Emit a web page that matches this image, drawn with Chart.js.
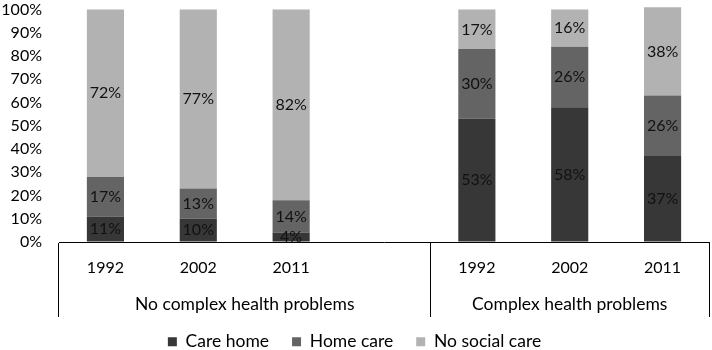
<!DOCTYPE html>
<html>
<head>
<meta charset="utf-8">
<script src="https://cdn.jsdelivr.net/npm/chart.js@4/dist/chart.umd.min.js"></script>
<style>
  html, body { margin: 0; padding: 0; background: #fff; }
</style>
</head>
<body>
<canvas id="chart" width="712" height="350"></canvas>
<script>
// categories: the empty one is the spacer between the two groups
const years = ['1992', '2002', '2011', '', '1992', '2002', '2011'];
const groups = ['No complex health problems', 'Complex health problems'];
const groupSizes = [4, 3];

const careHome = [11, 10, 4, null, 53, 58, 37];
const homeCare = [17, 13, 14, null, 30, 26, 26];
const noSocialCare = [72, 77, 82, null, 17, 16, 38];

const seriesNames = ['Care home', 'Home care', 'No social care'];
const seriesColors = ['#373737', '#646464', '#b2b2b2'];

// group boundaries (category index) and centres for the second axis row
let bounds = [0];
groupSizes.forEach((n) => { bounds.push(bounds[bounds.length - 1] + n); });
const groupCentres = groupSizes.map((n, i) => bounds[i] - 0.5 + n / 2);

Chart.defaults.font.family = 'Lato';
Chart.defaults.font.size = 16;
Chart.defaults.color = '#000';

const barLabels = {
    id: 'barLabels',
    afterDatasetsDraw(chart) {
        const c = chart.ctx;
        c.save();
        c.font = '16px Lato';
        c.fillStyle = '#111';
        c.textAlign = 'center';
        c.textBaseline = 'middle';
        chart.data.datasets.forEach((ds, i) => {
            chart.getDatasetMeta(i).data.forEach((el, j) => {
                const v = ds.data[j];
                if (v === null) return;
                c.fillText(v + '%', el.x, (el.y + el.base) / 2);
            });
        });
        c.restore();
    }
};

const ctx = document.getElementById('chart');
new Chart(ctx, {
    type: 'bar',
    data: {
        labels: years,
        datasets: [careHome, homeCare, noSocialCare].map((d, i) => ({
            label: seriesNames[i],
            data: d,
            backgroundColor: seriesColors[i],
            categoryPercentage: 1,
            barPercentage: 0.4,
            clip: false,
        })),
    },
    options: {
        responsive: false,
        animation: false,
        layout: { padding: { top: 0, right: 3, bottom: 0, left: 0 } },
        plugins: {
            legend: {
                position: 'bottom',
                maxHeight: 40,
                labels: { boxWidth: 9, boxHeight: 9, padding: 23, color: '#000', font: { size: 17.5 } },
            },
            tooltip: { enabled: false },
        },
        scales: {
            y: {
                stacked: true,
                min: 0,
                max: 100,
                ticks: { stepSize: 10, padding: 0, autoSkip: false, callback: (v) => v + '%' },
                grid: { drawOnChartArea: false, drawTicks: true, tickLength: 17, color: 'transparent' },
                border: { display: false },
                afterFit: (s) => { s.width = 59; },
            },
            x: {
                stacked: true,
                grid: {
                    drawOnChartArea: false,
                    tickLength: 75,
                    color: (c) => {
                        const i = c.type === 'tick' ? c.index : years.length;
                        return bounds.includes(i) ? '#000' : 'transparent';
                    },
                },
                border: { color: '#000' },
                ticks: { padding: -59, autoSkip: false, maxRotation: 0 },
                afterFit: (s) => { s.height = 38; },
            },
            x2: {
                type: 'linear',
                position: 'bottom',
                offset: false,
                min: -0.5,
                max: years.length - 0.5,
                afterBuildTicks: (s) => {
                    s.ticks = groupCentres.map((v) => ({ value: v }));
                },
                ticks: {
                    mirror: true,
                    padding: -35,
                    font: { size: 17.5 },
                    callback: (v) => groups[groupCentres.indexOf(v)],
                },
                grid: { display: false, drawTicks: false },
                border: { display: false },
                afterFit: (s) => { s.height = 30; },
            },
        },
    },
    plugins: [barLabels],
});
</script>
</body>
</html>
